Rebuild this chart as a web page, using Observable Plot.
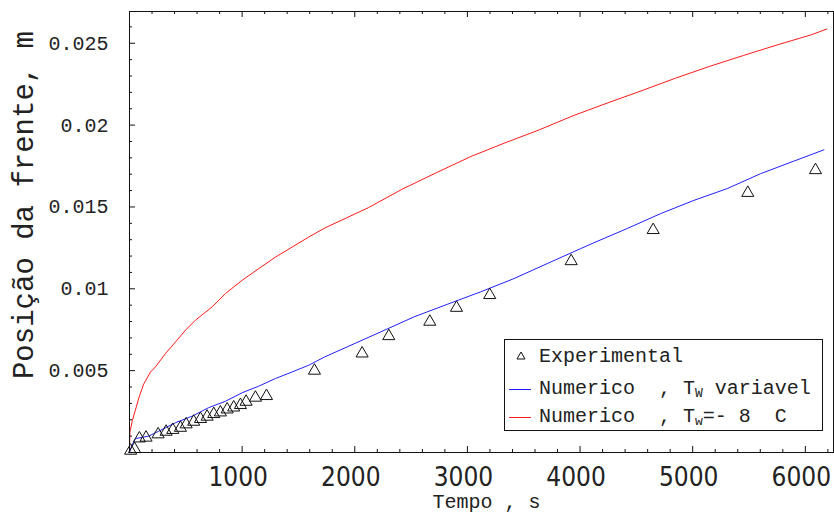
<!DOCTYPE html>
<html>
<head>
<meta charset="utf-8">
<script src="https://cdn.jsdelivr.net/npm/d3@7"></script>
<script src="https://cdn.jsdelivr.net/npm/@observablehq/plot@0.6"></script>
<style>
  body { margin: 0; background: #fff; }
  #wrap { position: relative; width: 834px; height: 514px; overflow: hidden; }
  #legend {
    position: absolute; left: 504px; top: 339px; width: 319px; height: 92px;
    box-sizing: border-box; border: 1px solid #111; background: #fff;
    font-family: "Liberation Mono", monospace; font-size: 20px; color: #222;
  }
  #legend .row { position: absolute; left: 0; height: 24px; line-height: 24px; white-space: pre; }
  #legend .txt { position: absolute; left: 34px; top: 0; }
  #legend sub { font-size: 13px; vertical-align: -3px; line-height: 0; }
  #legend .sw { position: absolute; left: 4px; top: 12px; width: 22px; height: 0; border-top: 1px solid; }
  #legend .tri { position: absolute; left: 10px; top: 5px; }
</style>
</head>
<body>
<div id="wrap">
  <div id="chart"></div>
  <div id="legend"></div>
</div>
<script>
// ---- data ----
const redT = [0, 4, 26, 52, 82, 126, 186, 230, 319, 408, 497, 585, 733, 852, 1000, 1147, 1296, 1444, 1591, 1733, 2122, 2425, 2727, 3030, 3332, 3634, 3937, 4239, 4542, 4845, 5146, 5449, 5751, 6054, 6190];
const redV = [0, 0.00126, 0.00197, 0.00258, 0.00332, 0.00418, 0.00491, 0.00523, 0.00604, 0.00675, 0.00747, 0.00808, 0.00889, 0.00971, 0.01052, 0.01123, 0.01194, 0.01255, 0.01316, 0.01371, 0.01496, 0.0161, 0.0171, 0.01808, 0.01891, 0.0197, 0.02057, 0.02134, 0.02209, 0.02286, 0.02358, 0.02425, 0.0249, 0.02552, 0.02587];

const blueT = [0, 23, 52, 170, 259, 408, 556, 703, 852, 1000, 1147, 1296, 1444, 1591, 1733, 1932, 2228, 2524, 2820, 3116, 3412, 3708, 4004, 4122, 4418, 4714, 5010, 5306, 5602, 5898, 6165];
const blueV = [0, 0.00045, 0.00085, 0.001, 0.0013, 0.00182, 0.00222, 0.00274, 0.00313, 0.00365, 0.00405, 0.00452, 0.00492, 0.00533, 0.00584, 0.00645, 0.00736, 0.00828, 0.00905, 0.00981, 0.01062, 0.01154, 0.01245, 0.01281, 0.01368, 0.01459, 0.0154, 0.01612, 0.01703, 0.0178, 0.01849];

const expT = [10, 45, 88, 147, 254, 325, 384, 452, 503, 570, 630, 689, 748, 807, 867, 925, 985, 1035, 1118, 1216, 1642, 2065, 2302, 2666, 2903, 3198, 3921, 4649, 5489, 6090];
const expV = [0.0002, 0.0003, 0.00095, 0.001, 0.0012, 0.00136, 0.00147, 0.0016, 0.00181, 0.00197, 0.00214, 0.00228, 0.00244, 0.00254, 0.00272, 0.00284, 0.00299, 0.00319, 0.00344, 0.00354, 0.00509, 0.00614, 0.0072, 0.00808, 0.00893, 0.00971, 0.01178, 0.01368, 0.01595, 0.01734];

const xTickValues = [1000, 2000, 3000, 4000, 5000, 6000];
const xTickLabels = ["1000", "2000", "3000", "4000", "5000", "6000"];
const yTickValues = [0.005, 0.01, 0.015, 0.02, 0.025];
const yTickLabels = ["0.005", "0.01", "0.015", "0.02", "0.025"];

const xTitle = "Tempo , s";
const yTitle = "Posição da frente, m";
const legendLabels = ["Experimental", "Numerico  , T<sub>W</sub> variavel", "Numerico  , T<sub>w</sub>=- 8  C"];
const colors = { red: "#ff1a1a", blue: "#2020ff", black: "#111" };

// ---- build tables ----
const red = redT.map((t, i) => ({ t, v: redV[i] }));
const blue = blueT.map((t, i) => ({ t, v: blueV[i] }));
const exp = expT.map((t, i) => ({ t, v: expV[i] }));
const xTicks = xTickValues.map((v, i) => ({ v, label: xTickLabels[i] }));
const yTicks = yTickValues.map((v, i) => ({ v, label: yTickLabels[i] }));

const W = 834, H = 514, mL = 129, mR = 1, mT = 11, mB = 62;
const innerH = H - mT - mB, innerW = W - mL - mR;
const xDomain = [0, 6250], yDomain = [0, 0.02694];
const xMajor = d3.range(0, 6001, 1000);
const xMinor = d3.range(0, 6201, 200).filter(d => d % 1000 !== 0);
const yMajor = [0, ...yTickValues];
const yMinor = d3.range(1, 27).map(d => d / 1000).filter(d => Math.round(d * 1000) % 5 !== 0);

const monoFont = "Liberation Mono, DejaVu Sans Mono, monospace";
const narrowFont = "Liberation Sans Narrow, DejaVu Sans Condensed, sans-serif";

const chart = Plot.plot({
  width: W, height: H,
  marginLeft: mL, marginRight: mR, marginTop: mT, marginBottom: mB,
  x: { domain: xDomain, axis: null },
  y: { domain: yDomain, axis: null },
  style: { background: "transparent", color: colors.black },
  marks: [
    Plot.line(red, { x: "t", y: "v", stroke: colors.red, strokeWidth: 1 }),
    Plot.line(blue, { x: "t", y: "v", stroke: colors.blue, strokeWidth: 1 }),
    Plot.dot(exp, { x: "t", y: "v", symbol: "triangle", r: 4.5, stroke: colors.black, fill: "none", strokeWidth: 1, dy: 1.5 }),
    // inward frame ticks
    Plot.ruleX(xMajor, { x: d => d, insetTop: innerH - 6, stroke: colors.black }),
    Plot.ruleX(xMinor, { x: d => d, insetTop: innerH - 3, stroke: colors.black }),
    Plot.ruleX(xMajor, { x: d => d, insetBottom: innerH - 6, stroke: colors.black }),
    Plot.ruleX(xMinor, { x: d => d, insetBottom: innerH - 3, stroke: colors.black }),
    Plot.ruleY(yMajor, { y: d => d, insetRight: innerW - 6, stroke: colors.black }),
    Plot.ruleY(yMinor, { y: d => d, insetRight: innerW - 3, stroke: colors.black }),
    Plot.frame({ stroke: colors.black }),
    // tick labels
    Plot.text(xTicks, { x: "v", text: "label", frameAnchor: "bottom", dy: 25, dx: -4, lineAnchor: "middle",
      fontFamily: narrowFont, fontSize: 26, fill: "#222" }),
    Plot.text(yTicks, { y: "v", text: "label", frameAnchor: "left", dx: -21, textAnchor: "end",
      fontFamily: monoFont, fontSize: 20, fill: "#222" }),
    // axis titles
    Plot.text([xTitle], { text: d => d, frameAnchor: "bottom", dy: 49, dx: 5, lineAnchor: "middle",
      fontFamily: monoFont, fontSize: 20, fill: "#222", ariaLabel: "xtitle" }),
    Plot.text([yTitle], { text: d => d, frameAnchor: "left", rotate: -90, dx: -106, dy: -27,
      textAnchor: "middle", lineAnchor: "middle",
      fontFamily: monoFont, fontSize: 29, fill: "#222", ariaLabel: "ytitle" })
  ]
});
document.getElementById("chart").appendChild(chart);

// ---- legend (overlay box inside the plot) ----
const lg = document.getElementById("legend");
const rowsTop = [5, 37, 65];
legendLabels.forEach((lab, i) => {
  const row = document.createElement("div");
  row.className = "row";
  row.style.top = rowsTop[i] + "px";
  row.style.width = "100%";
  if (i === 0) {
    row.innerHTML = `<svg class="tri" width="12" height="12"><path d="M6,2 L10,9 L2,9 Z" fill="none" stroke="${colors.black}" stroke-width="1"/></svg>`;
  } else {
    row.innerHTML = `<span class="sw" style="border-color:${i === 1 ? colors.blue : colors.red}"></span>`;
  }
  const t = document.createElement("span");
  t.className = "txt";
  t.innerHTML = lab;
  row.appendChild(t);
  lg.appendChild(row);
});
</script>
</body>
</html>
